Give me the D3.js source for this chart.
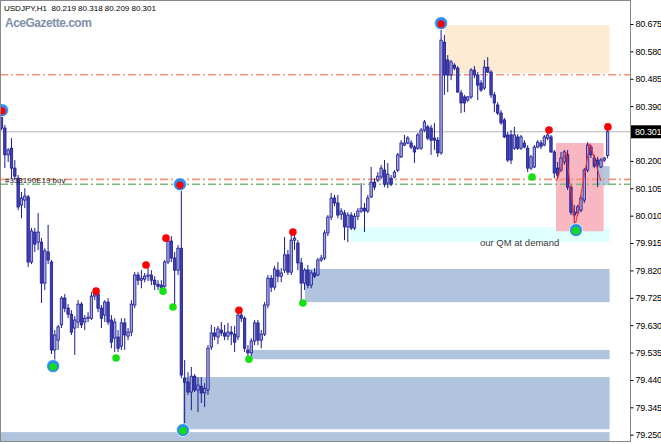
<!DOCTYPE html>
<html><head><meta charset="utf-8">
<script src="https://cdn.jsdelivr.net/npm/d3@7"></script>
<style>html,body{margin:0;padding:0;background:#fff;overflow:hidden}</style>
</head><body>
<svg id="c" width="661" height="444"></svg>
<script>
// ---- DATA (USDJPY H1) ----
const opens = [
80.369,80.314,80.221,80.244,80.175,80.140,80.047,80.064,80.075,79.849,
79.953,79.918,79.918,79.776,79.884,79.849,79.544,79.578,79.631,79.724,
79.689,79.668,79.620,79.641,79.703,79.641,79.654,79.654,79.731,79.738,
79.689,79.665,79.710,79.648,79.585,79.589,79.557,79.638,79.592,79.606,
79.700,79.804,79.786,79.790,79.800,79.804,79.786,79.772,79.769,79.765,
79.849,79.922,79.863,79.821,79.897,79.446,79.432,79.398,79.453,79.405,
79.418,79.395,79.405,79.554,79.603,79.589,79.613,79.603,79.592,79.606,
79.599,79.589,79.665,79.654,79.544,79.534,79.575,79.638,79.578,79.599,
79.700,79.793,79.762,79.821,79.800,79.821,79.874,79.814,79.925,79.915,
79.846,79.776,79.821,79.769,79.811,79.804,79.856,79.863,79.950,80.005,
80.071,80.054,80.015,80.019,79.971,80.012,79.967,80.008,80.026,80.036,
80.026,80.075,80.126,80.133,80.144,80.168,80.123,80.140,80.144,80.168,
80.214,80.255,80.262,80.262,80.248,80.244,80.244,80.307,80.318,80.314,
80.279,80.272,80.228,80.612,80.550,80.498,80.532,80.522,80.436,80.422,
80.411,80.422,80.515,80.498,80.470,80.453,80.525,80.508,80.429,80.394,
80.366,80.342,80.290,80.290,80.244,80.283,80.244,80.262,80.244,80.175,
80.179,80.248,80.262,80.255,80.279,80.283,80.231,80.175,80.168,80.196,
80.221,80.109,80.022,80.019,80.029,80.064,80.168,80.248,80.210,80.203,
80.179,80.203,80.219];
const highs = [
80.380,80.325,80.244,80.279,80.203,80.151,80.092,80.105,80.082,79.967,
79.967,80.019,79.932,79.897,79.978,79.856,79.613,79.631,79.731,79.738,
79.703,79.682,79.661,79.717,79.710,79.665,79.675,79.745,79.752,79.752,
79.700,79.717,79.724,79.665,79.654,79.613,79.654,79.654,79.620,79.717,
79.814,79.814,79.821,79.811,79.828,79.821,79.800,79.786,79.786,79.856,
79.932,79.939,79.884,79.908,80.116,79.509,79.467,79.485,79.460,79.450,
79.450,79.429,79.561,79.631,79.624,79.627,79.641,79.631,79.638,79.627,
79.627,79.682,79.675,79.661,79.561,79.585,79.648,79.648,79.613,79.710,
79.804,79.804,79.835,79.849,79.828,79.936,79.891,79.953,79.950,79.925,
79.863,79.828,79.839,79.821,79.828,79.863,79.874,79.960,80.012,80.089,
80.082,80.082,80.036,80.029,80.022,80.022,80.019,80.036,80.123,80.054,
80.082,80.179,80.140,80.161,80.186,80.203,80.193,80.151,80.168,80.228,
80.272,80.290,80.286,80.272,80.255,80.297,80.314,80.342,80.325,80.325,
80.332,80.283,80.675,80.637,80.567,80.550,80.539,80.529,80.446,80.429,
80.425,80.522,80.529,80.508,80.480,80.550,80.560,80.515,80.439,80.404,
80.376,80.349,80.300,80.307,80.318,80.293,80.290,80.272,80.255,80.221,
80.255,80.272,80.272,80.290,80.297,80.290,80.238,80.196,80.231,80.238,
80.238,80.116,80.047,80.047,80.082,80.175,80.265,80.255,80.221,80.214,
80.210,80.214,80.318];
const lows = [
80.307,80.175,80.196,80.140,80.133,80.029,80.001,80.036,79.832,79.842,
79.884,79.891,79.707,79.752,79.842,79.530,79.502,79.544,79.620,79.675,
79.654,79.596,79.527,79.620,79.620,79.613,79.641,79.648,79.717,79.675,
79.620,79.641,79.631,79.550,79.537,79.537,79.544,79.544,79.578,79.592,
79.689,79.769,79.758,79.779,79.783,79.769,79.752,79.752,79.745,79.752,
79.842,79.849,79.700,79.804,79.446,79.273,79.388,79.335,79.398,79.328,
79.360,79.346,79.388,79.544,79.578,79.564,79.592,79.578,79.578,79.561,
79.537,79.578,79.641,79.537,79.520,79.523,79.561,79.561,79.550,79.592,
79.689,79.745,79.752,79.779,79.779,79.811,79.804,79.804,79.891,79.821,
79.710,79.752,79.758,79.758,79.793,79.800,79.849,79.856,79.939,79.995,
80.043,80.001,79.995,79.925,79.918,79.960,79.960,79.995,80.019,79.953,
80.019,80.071,80.099,80.126,80.137,80.109,80.105,80.112,80.140,80.161,
80.210,80.251,80.258,80.241,80.193,80.238,80.238,80.300,80.272,80.221,
80.238,80.214,80.221,80.429,80.439,80.480,80.515,80.436,80.366,80.369,
80.404,80.415,80.487,80.411,80.439,80.446,80.505,80.418,80.369,80.359,
80.325,80.279,80.196,80.189,80.238,80.238,80.238,80.244,80.161,80.168,
80.175,80.244,80.241,80.251,80.272,80.228,80.140,80.140,80.161,80.186,
80.099,80.012,79.971,80.008,80.022,80.054,80.161,80.210,80.175,80.109,
80.175,80.196,80.209];
const closes = [
80.314,80.221,80.238,80.175,80.147,80.040,80.071,80.078,79.849,79.957,
79.911,79.953,79.776,79.888,79.856,79.544,79.596,79.624,79.724,79.689,
79.668,79.606,79.648,79.703,79.631,79.654,79.658,79.731,79.738,79.689,
79.654,79.710,79.641,79.571,79.641,79.550,79.638,79.596,79.606,79.703,
79.804,79.786,79.793,79.800,79.804,79.786,79.772,79.765,79.758,79.849,
79.922,79.863,79.821,79.897,79.457,79.432,79.398,79.453,79.405,79.422,
79.395,79.411,79.550,79.603,79.592,79.617,79.603,79.592,79.606,79.599,
79.571,79.665,79.654,79.550,79.534,79.575,79.638,79.578,79.599,79.700,
79.793,79.762,79.825,79.800,79.811,79.874,79.814,79.925,79.932,79.846,
79.776,79.821,79.769,79.811,79.800,79.856,79.863,79.950,80.005,80.071,
80.054,80.012,80.026,79.971,80.012,79.967,80.008,80.026,80.036,80.026,
80.071,80.126,80.109,80.147,80.175,80.119,80.154,80.119,80.161,80.221,
80.262,80.262,80.279,80.248,80.231,80.290,80.307,80.335,80.279,80.272,
80.272,80.228,80.619,80.498,80.498,80.543,80.522,80.439,80.401,80.401,
80.422,80.515,80.498,80.463,80.446,80.525,80.508,80.429,80.401,80.366,
80.332,80.283,80.203,80.203,80.290,80.244,80.283,80.248,80.175,80.214,
80.248,80.265,80.251,80.283,80.290,80.231,80.158,80.151,80.210,80.231,
80.109,80.022,80.012,80.040,80.071,80.168,80.255,80.221,80.182,80.186,
80.203,80.210,80.301];

const priceTicks = [80.675,80.580,80.485,80.390,80.200,80.105,80.010,79.915,79.820,79.725,79.630,79.535,79.440,79.345,79.250];
const currentPrice = 80.301;
const headerText = "USDJPY,H1  80.219 80.318 80.209 80.301";
const brandText = "AceGazette.com";
const orderLabel = "#333190E19 buy";
const demandLabel = "our QM at demand";

// zones: [startIndex, endIndex, topPrice, bottomPrice]
const supplyZone = [133.2, 182.6, 80.671, 80.505];
const qmZone = [166.5, 180.8, 80.262, 79.956];
const qmEntryZone = [179.1, 182.6, 80.182, 80.116];
const demandZone = [104.7, 182.6, 79.970, 79.918];
const baseZones = [
  [91.1, 182.6, 79.825, 79.710],
  [74.9, 182.6, 79.544, 79.512],
  [54.5, 182.6, 79.450, 79.269],
  [-0.5, 182.6, 79.259, 79.200]
];
// levels
const tpLevels = [80.499, 80.136];
const openLevel = 80.119;
// QM zigzag
const qmIdx = [166.7, 169.5, 172.3, 176.7, 180.0];
const qmPrice = [80.130, 80.231, 79.975, 80.260, 80.130];
// swing markers [index, price]
const smallHighIdx = [28.4, 43.4, 49.4, 71.3, 87.5, 164.4, 182.1];
const smallHighPx  = [79.748, 79.839, 79.932, 79.682, 79.953, 80.307, 80.318];
const smallLowIdx  = [34.4, 48.5, 51.5, 74.3, 90.5, 159.3];
const smallLowPx   = [79.516, 79.748, 79.693, 79.512, 79.707, 80.144];
const bigHighIdx = [0.15, 53.6, 132.0];
const bigHighPx  = [80.376, 80.119, 80.678];
const bigLowIdx  = [15.5, 54.5, 172.5];
const bigLowPx   = [79.488, 79.266, 79.960];

// ---- DRAW ----
const svg = d3.select('#c');
const N = Math.min(opens.length, highs.length, lows.length, closes.length);
const plotW = 630, plotH = 441;
const x = d3.scaleLinear().domain([0, 182]).range([1.5, 607.6]);
const y = d3.scaleLinear().domain([79.250, 80.675]).range([434.7, 24]);
const FONT = 'Liberation Sans, Arial, sans-serif';

svg.append('rect').attr('width',661).attr('height',444).attr('fill','#fff');
svg.append('defs').append('clipPath').attr('id','clip')
  .append('rect').attr('x',0).attr('y',0).attr('width',plotW).attr('height',plotH);
const g = svg.append('g').attr('clip-path','url(#clip)');

function zone(z, fill, op){
  g.append('rect')
    .attr('x', x(z[0])).attr('width', x(z[1]) - x(z[0]))
    .attr('y', y(z[2])).attr('height', y(z[3]) - y(z[2]))
    .attr('fill', fill).attr('fill-opacity', op||1);
}
zone(supplyZone, '#fdebd4');
zone(demandZone, '#e0ffff');
baseZones.forEach(z => zone(z, '#b0c4de'));
zone(qmZone, '#f9b4be', 0.95);
zone(qmEntryZone, '#aec2dc', 0.9);

// horizontal lines
g.append('line').attr('x1',0).attr('x2',plotW)
  .attr('y1', y(currentPrice)).attr('y2', y(currentPrice))
  .attr('stroke','#b4b4b4').attr('stroke-width',1);
tpLevels.forEach(v => {
  g.append('line').attr('x1',0).attr('x2',plotW)
    .attr('y1', y(v)).attr('y2', y(v))
    .attr('stroke','#f4957a').attr('stroke-width',1.6)
    .attr('stroke-dasharray','8,3,2,3');
});
g.append('line').attr('x1',0).attr('x2',plotW)
  .attr('y1', y(openLevel)).attr('y2', y(openLevel))
  .attr('stroke','#78b878').attr('stroke-width',1.6)
  .attr('stroke-dasharray','8,3,2,3');

// candles
const idx = d3.range(N);
const cg = g.append('g');
cg.selectAll('line.w').data(idx).join('line').attr('class','w')
  .attr('x1', i => x(i)).attr('x2', i => x(i))
  .attr('y1', i => y(highs[i])).attr('y2', i => y(lows[i]))
  .attr('stroke','#1b1b8f').attr('stroke-width',1);
cg.selectAll('rect.b').data(idx).join('rect').attr('class','b')
  .attr('x', i => x(i) - 1.2).attr('width', 2.4)
  .attr('y', i => y(Math.max(opens[i], closes[i])))
  .attr('height', i => Math.max(0.8, Math.abs(y(opens[i]) - y(closes[i]))))
  .attr('fill', i => closes[i] >= opens[i] ? '#a4a4e0' : '#4040b0')
  .attr('stroke','#1b1b8f').attr('stroke-width',0.8);

// QM zigzag
g.append('path')
  .attr('d', d3.line().x(d => x(d[0])).y(d => y(d[1]))(qmIdx.map((v,k)=>[v, qmPrice[k]])))
  .attr('fill','none').attr('stroke','#ff2a2a').attr('stroke-width',1);

// markers
const mg = g.append('g');
bigHighIdx.forEach((v,k) => {
  mg.append('circle').attr('cx', x(v)).attr('cy', y(bigHighPx[k])).attr('r',6.5)
    .attr('fill','#2a8cf0').attr('stroke','#fff').attr('stroke-width',0.8);
  mg.append('circle').attr('cx', x(v)).attr('cy', y(bigHighPx[k])+0.8).attr('r',3.6).attr('fill','#ff0000');
});
bigLowIdx.forEach((v,k) => {
  mg.append('circle').attr('cx', x(v)).attr('cy', y(bigLowPx[k])).attr('r',6.5)
    .attr('fill','#2a8cf0').attr('stroke','#fff').attr('stroke-width',0.8);
  mg.append('circle').attr('cx', x(v)).attr('cy', y(bigLowPx[k])+0.6).attr('r',3.8).attr('fill','#12dc12');
});
smallHighIdx.forEach((v,k) => {
  mg.append('circle').attr('cx', x(v)).attr('cy', y(smallHighPx[k])).attr('r',3.8).attr('fill','#ff0000');
});
smallLowIdx.forEach((v,k) => {
  mg.append('circle').attr('cx', x(v)).attr('cy', y(smallLowPx[k])).attr('r',3.8).attr('fill','#14e014');
});

// texts
svg.append('text').attr('x',4).attr('y',10.5).text(headerText)
  .attr('font-family',FONT).attr('font-size','8px').attr('fill','#000')
  .style('white-space','pre').attr('xml:space','preserve');
svg.append('text').attr('x',5).attr('y',26.5).text(brandText)
  .attr('font-family',FONT).attr('font-size','12px')
  .attr('font-weight','bold').attr('letter-spacing','-0.5').attr('fill','#8091aa');
svg.append('text').attr('x',5).attr('y',183).text(orderLabel)
  .attr('font-family',FONT).attr('font-size','8px').attr('fill','#202020');
svg.append('text').attr('x',480).attr('y',245.5).text(demandLabel)
  .attr('font-family',FONT).attr('font-size','9.5px').attr('fill','#3a3a3a');

// frame
svg.append('rect').attr('x',0.5).attr('y',0.5).attr('width',plotW).attr('height',plotH)
  .attr('fill','none').attr('stroke','#888').attr('stroke-width',1);

// price axis
const ax = svg.append('g').attr('transform',`translate(${plotW+0.5},0)`)
  .call(d3.axisRight(y).tickValues(priceTicks).tickSize(3).tickPadding(2).tickFormat(d3.format('.3f')));
ax.select('.domain').remove();
ax.selectAll('text').attr('font-family',FONT)
  .attr('font-size','9px').attr('letter-spacing','-0.2').attr('fill','#000');
ax.selectAll('line').attr('stroke','#000');

// current price label
const cpY = y(currentPrice);
svg.append('rect').attr('x',plotW+1).attr('y',cpY-6.5).attr('width',30).attr('height',13).attr('fill','#000');
svg.append('text').attr('x',plotW+5).attr('y',cpY+3.2).text(d3.format('.3f')(currentPrice))
  .attr('font-family',FONT).attr('font-size','9px')
  .attr('letter-spacing','-0.2').attr('fill','#fff');
</script>
</body></html>
